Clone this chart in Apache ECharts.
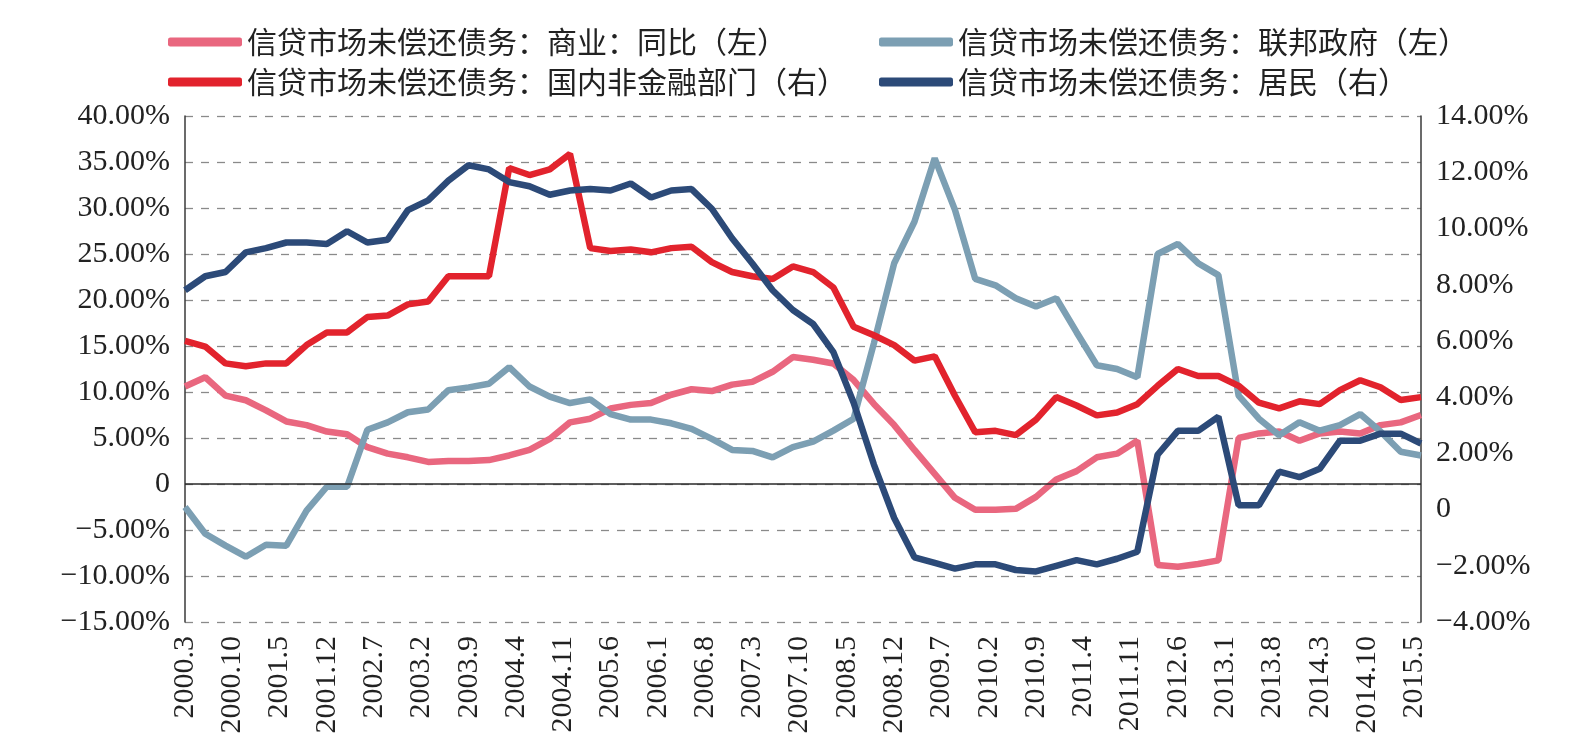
<!DOCTYPE html>
<html>
<head>
<meta charset="utf-8">
<script src="https://cdn.jsdelivr.net/npm/echarts@6/dist/echarts.min.js"></script>
<style>
  html, body { margin: 0; padding: 0; background: #fff; }
  #chart { width: 1580px; height: 749px; }
</style>
</head>
<body>
<div id="chart"></div>
<script>
// quarterly data, 2000.3 .. 2015.6 (62 quarters)
var startYear = 2000, startMonth = 3, monthCount = 184;

// left axis (%)
var commercial = [10.6, 11.6, 9.6, 9.1, 8.0, 6.8, 6.4, 5.7, 5.4, 4.0, 3.3, 2.9, 2.4, 2.5, 2.5, 2.6,
  3.1, 3.7, 4.9, 6.7, 7.1, 8.2, 8.6, 8.8, 9.7, 10.3, 10.1, 10.8, 11.1, 12.2, 13.8, 13.5,
  13.1, 11.3, 8.7, 6.4, 3.7, 1.1, -1.5, -2.8, -2.8, -2.7, -1.4, 0.5, 1.4, 2.9,
  3.3, 4.7, -8.8, -9.0, -8.7, -8.3, 5.0, 5.5, 5.7, 4.7, 5.5, 5.7, 5.5, 6.4, 6.7, 7.5];
var federal = [-2.5, -5.4, -6.7, -7.9, -6.6, -6.7, -2.9, -0.3, -0.3, 5.9, 6.7, 7.8, 8.1, 10.2, 10.5, 10.9,
  12.7, 10.6, 9.5, 8.8, 9.2, 7.6, 7.0, 7.0, 6.6, 6.0, 4.9, 3.7, 3.6, 2.9, 4.0, 4.6,
  5.8, 7.1, 15.3, 24.0, 28.5, 35.4, 29.8, 22.3, 21.6, 20.2, 19.3, 20.2, 16.5, 12.9,
  12.5, 11.6, 25.0, 26.1, 24.0, 22.7, 9.6, 7.1, 5.3, 6.7, 5.8, 6.4, 7.6, 5.7, 3.5, 3.1];
// right axis (%)
var domesticNonFin = [6.0, 5.8, 5.2, 5.1, 5.2, 5.2, 5.85, 6.3, 6.3, 6.85, 6.9, 7.3, 7.4, 8.3, 8.3, 8.3,
  12.15, 11.9, 12.1, 12.65, 9.3, 9.2, 9.25, 9.15, 9.3, 9.35, 8.8, 8.45, 8.3, 8.2, 8.65, 8.45,
  7.9, 6.5, 6.2, 5.85, 5.3, 5.45, 4.05, 2.75, 2.8, 2.65, 3.2, 4.0, 3.7, 3.35,
  3.45, 3.75, 4.4, 5.0, 4.75, 4.75, 4.4, 3.8, 3.6, 3.85, 3.75, 4.25, 4.6, 4.35, 3.9, 4.0];
var household = [7.8, 8.3, 8.45, 9.15, 9.3, 9.5, 9.5, 9.45, 9.9, 9.5, 9.6, 10.65, 11.0, 11.7, 12.25, 12.1,
  11.65, 11.5, 11.2, 11.35, 11.4, 11.35, 11.6, 11.1, 11.35, 11.4, 10.7, 9.65, 8.75, 7.8, 7.1, 6.6,
  5.6, 3.8, 1.6, -0.3, -1.7, -1.9, -2.1, -1.95, -1.95, -2.15, -2.2, -2.0, -1.8, -1.95,
  -1.75, -1.5, 1.95, 2.8, 2.8, 3.3, 0.15, 0.15, 1.35, 1.15, 1.45, 2.45, 2.45, 2.7, 2.7, 2.35];

var names = [
  '信贷市场未偿还债务：商业：同比（左）',
  '信贷市场未偿还债务：联邦政府（左）',
  '信贷市场未偿还债务：国内非金融部门（右）',
  '信贷市场未偿还债务：居民（右）'
];
var colors = ['#E9677F', '#7C9FB3', '#E2232D', '#2C4A78'];

// monthly category labels, e.g. 2000.3, 2000.4 ...
var months = [];
for (var k = 0; k < monthCount; k++) {
  var m = startMonth - 1 + k;
  months.push((startYear + Math.floor(m / 12)) + '.' + (m % 12 + 1));
}

function toQuarterly(arr) {
  return arr.map(function (v, i) { return [i * 3, v]; });
}

function pctLabel(v) {
  if (v === 0) return '0';
  return (v < 0 ? '\u2212' : '') + Math.abs(v).toFixed(2) + '%';
}

var serifFont = 'Liberation Serif';
var cjkFont = 'Noto Sans CJK SC';

var chart = echarts.init(document.getElementById('chart'));

var legendBase = {
  orient: 'vertical',
  top: 22,
  itemGap: 10,
  itemWidth: 74,
  itemHeight: 9,
  icon: 'roundRect',
  textStyle: { fontSize: 30, fontFamily: cjkFont, color: '#222' }
};

chart.setOption({
  animation: false,
  backgroundColor: '#fff',
  legend: [
    Object.assign({}, legendBase, { left: 163, data: [names[0], names[2]] }),
    Object.assign({}, legendBase, { left: 874, data: [names[1], names[3]] })
  ],
  grid: { left: 185, right: 159, top: 116, bottom: 127 },
  xAxis: {
    type: 'category',
    data: months,
    boundaryGap: false,
    axisLine: { show: false },
    axisTick: { show: false },
    splitLine: { show: false },
    axisLabel: {
      interval: 6,
      rotate: 90,
      margin: 14,
      fontSize: 30,
      fontFamily: serifFont,
      color: '#222'
    }
  },
  yAxis: [
    {
      type: 'value',
      min: -15,
      max: 40,
      interval: 5,
      position: 'left',
      axisLine: { show: true, lineStyle: { color: '#3a3a3a', width: 1.5 } },
      axisTick: { show: false },
      axisLabel: { formatter: pctLabel, fontSize: 30, fontFamily: serifFont, color: '#222', margin: 15 },
      splitLine: { show: true, lineStyle: { color: '#8a8a8a', width: 1.3, type: [8, 8] } }
    },
    {
      type: 'value',
      min: -4,
      max: 14,
      interval: 2,
      position: 'right',
      axisLine: { show: true, lineStyle: { color: '#3a3a3a', width: 1.5 } },
      axisTick: { show: false },
      axisLabel: { formatter: pctLabel, fontSize: 30, fontFamily: serifFont, color: '#222', margin: 15 },
      splitLine: { show: false }
    }
  ],
  series: [
    {
      name: names[0],
      type: 'line',
      yAxisIndex: 0,
      data: toQuarterly(commercial),
      symbol: 'none',
      lineStyle: { width: 6.5, color: colors[0] },
      itemStyle: { color: colors[0] },
      markLine: {
        silent: true,
        symbol: 'none',
        label: { show: false },
        lineStyle: { color: '#2a2a2a', width: 1.5, type: 'solid' },
        data: [{ yAxis: 0 }]
      },
      z: 2
    },
    {
      name: names[1],
      type: 'line',
      yAxisIndex: 0,
      data: toQuarterly(federal),
      symbol: 'none',
      lineStyle: { width: 6.5, color: colors[1] },
      itemStyle: { color: colors[1] },
      z: 3
    },
    {
      name: names[2],
      type: 'line',
      yAxisIndex: 1,
      data: toQuarterly(domesticNonFin),
      symbol: 'none',
      lineStyle: { width: 6.5, color: colors[2] },
      itemStyle: { color: colors[2] },
      z: 4
    },
    {
      name: names[3],
      type: 'line',
      yAxisIndex: 1,
      data: toQuarterly(household),
      symbol: 'none',
      lineStyle: { width: 6.5, color: colors[3] },
      itemStyle: { color: colors[3] },
      z: 5
    }
  ]
});
</script>
</body>
</html>
